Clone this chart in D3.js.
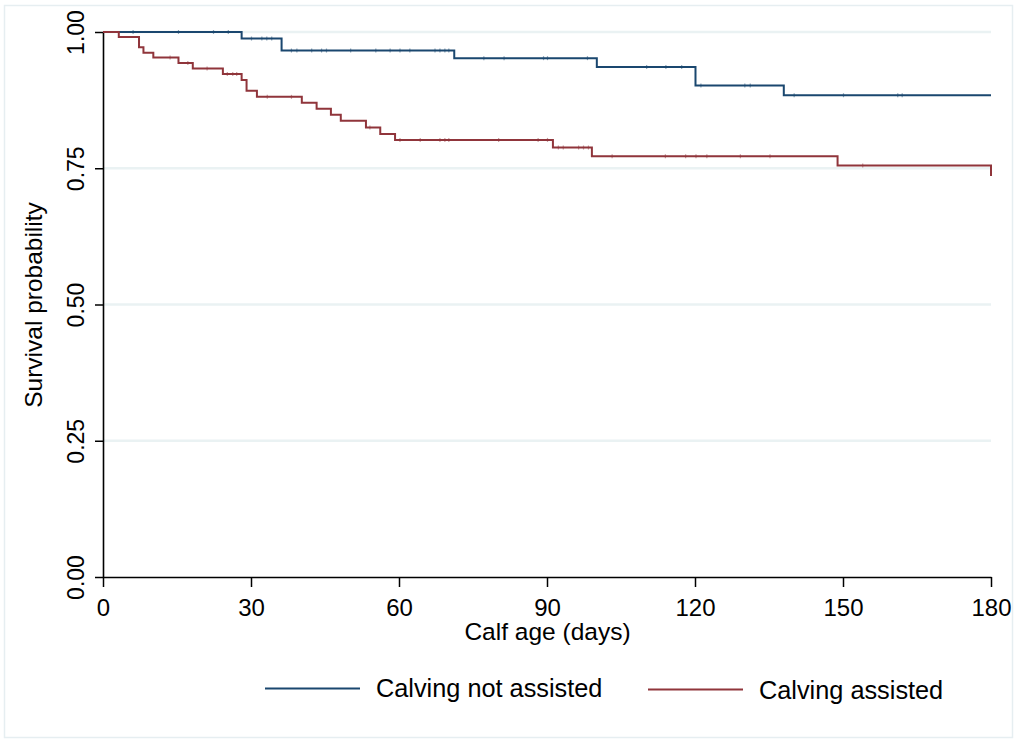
<!DOCTYPE html>
<html>
<head>
<meta charset="utf-8">
<script src="https://cdn.jsdelivr.net/npm/d3@7"></script>
<style>
  body { margin: 0; background: #fff; }
  svg text { font-family: "Liberation Sans", Arial, Helvetica, sans-serif; fill: #000; }
</style>
</head>
<body>
<svg id="chart"></svg>
<script>
// Kaplan-Meier steps (day, survival)
var notAssistedTimes = [0, 28.1, 36.2, 71.2, 100.1, 120.1, 138.0, 180];
var notAssistedSurv  = [1.0, 0.988, 0.966, 0.952, 0.936, 0.902, 0.884, 0.884];
var notAssistedCensored = [6.1, 15.3, 22.4, 25.4, 30.1, 32.2, 33.2, 34.2, 38.2, 39.3, 42.3, 44.3, 45.3,
    50.2, 55.3, 58.2, 60.2, 62.2, 67.3, 68.3, 69.3, 70.1, 77.2, 81.3, 89.3, 90.1, 98.2, 110.2, 114.1,
    117.3, 121.2, 130.1, 131.2, 140.1, 150.1, 161.1, 162.0];

var assistedTimes = [0, 3.2, 7.3, 8.2, 10.2, 15.3, 18.2, 24.3, 28.1, 29.1, 31.2, 40.3, 43.3, 46.2, 48.2,
    53.3, 56.2, 59.2, 91.2, 99.1, 148.9, 180, 180];
var assistedSurv  = [1.0, 0.991, 0.972, 0.962, 0.953, 0.943, 0.933, 0.923, 0.912, 0.892, 0.881, 0.870,
    0.859, 0.848, 0.837, 0.825, 0.813, 0.802, 0.788, 0.772, 0.755, 0.755, 0.736];
var assistedCensored = [13.6, 17.2, 21.1, 25.2, 26.3, 27.1, 33.3, 38.2, 54.1, 60.2, 64.3, 68.3, 69.3, 70.1,
    80.2, 88.2, 90.1, 92.3, 93.3, 96.4, 97.4, 98.4, 103.2, 114.0, 118.1, 120.2, 122.4, 129.2, 135.2, 154.0];

var xTicks = [0, 30, 60, 90, 120, 150, 180];
var yTicks = [0, 0.25, 0.5, 0.75, 1.0];
var seriesNames = ["Calving not assisted", "Calving assisted"];
var seriesColours = ["#1a476f", "#90353b"];

function zipSteps(times, surv) {
    let out = [];
    for (let i = 0; i < times.length; i++) {
        out.push({time: times[i], surv: surv[i]});
    }
    return out;
}

// survival level of a step curve at a given day
function survAt(steps, t) {
    let s = steps[0].surv;
    for (let i = 0; i < steps.length; i++) {
        if (steps[i].time <= t) s = steps[i].surv;
    }
    return s;
}

var svgWidth = 1017, svgHeight = 742;
var svg = d3.select('#chart')
    .attr("width", svgWidth)
    .attr("height", svgHeight);

// faint outer frame
svg.append("rect")
    .attr("x", 4.5).attr("y", 5.5)
    .attr("width", 1008).attr("height", 732)
    .attr("fill", "none")
    .attr("stroke", "#e6eef1")
    .attr("stroke-width", 1.5);

var xScale = d3.scaleLinear().domain([0, 180]).range([103, 991]);
var yScale = d3.scaleLinear().domain([0, 1]).range([577, 32]);

// grid lines
svg.append("g")
    .selectAll("line")
    .data(yTicks.filter(d => d > 0))
    .join("line")
    .attr("x1", xScale(0)).attr("x2", xScale(180))
    .attr("y1", d => yScale(d)).attr("y2", d => yScale(d))
    .attr("stroke", "#eaf2f3")
    .attr("stroke-width", 2.5);

// y axis
var yAxis = svg.append("g")
    .attr("transform", `translate(${xScale(0)},0)`)
    .call(d3.axisLeft(yScale).tickValues(yTicks).tickFormat(d3.format(".2f")).tickSize(8).tickSizeOuter(0));
yAxis.select(".domain").attr("stroke", "#000").attr("stroke-width", 1.6);
yAxis.selectAll(".tick line").attr("stroke", "#000").attr("stroke-width", 1.5);
yAxis.selectAll(".tick text")
    .attr("transform", "rotate(-90)")
    .attr("x", 0).attr("y", -19.5).attr("dy", 0)
    .attr("text-anchor", "middle")
    .style("font-size", "23px")
    .style("font-family", "'Liberation Sans', Arial, sans-serif");

// x axis
var xAxis = svg.append("g")
    .attr("transform", `translate(0,${yScale(0)})`)
    .call(d3.axisBottom(xScale).tickValues(xTicks).tickSize(10).tickSizeOuter(0));
xAxis.select(".domain").attr("stroke", "#000").attr("stroke-width", 1.6);
xAxis.selectAll(".tick line").attr("stroke", "#000").attr("stroke-width", 1.5);
xAxis.selectAll(".tick text")
    .attr("y", 39).attr("dy", 0)
    .style("font-size", "24px")
    .style("font-family", "'Liberation Sans', Arial, sans-serif");

// axis titles
svg.append("text")
    .attr("x", (xScale(0) + xScale(180)) / 2 + 0.5)
    .attr("y", 640)
    .attr("text-anchor", "middle")
    .style("font-size", "24.5px")
    .text("Calf age (days)");

svg.append("text")
    .attr("transform", "translate(42,305) rotate(-90)")
    .attr("text-anchor", "middle")
    .style("font-size", "24.5px")
    .text("Survival probability");

// survival curves
var stepLine = d3.line()
    .x(d => xScale(d.time))
    .y(d => yScale(d.surv))
    .curve(d3.curveStepAfter);

var curves = [
    {steps: zipSteps(notAssistedTimes, notAssistedSurv), censored: notAssistedCensored},
    {steps: zipSteps(assistedTimes, assistedSurv), censored: assistedCensored}
];

curves.forEach((c, i) => {
    svg.append("path")
        .datum(c.steps)
        .attr("fill", "none")
        .attr("stroke", seriesColours[i])
        .attr("stroke-width", 2)
        .attr("d", stepLine);

    // censoring ticks
    svg.append("g")
        .selectAll("line")
        .data(c.censored)
        .join("line")
        .attr("x1", d => xScale(d)).attr("x2", d => xScale(d))
        .attr("y1", d => yScale(survAt(c.steps, d)) - 2)
        .attr("y2", d => yScale(survAt(c.steps, d)) + 2)
        .attr("stroke", seriesColours[i])
        .attr("stroke-opacity", 0.5)
        .attr("stroke-width", 1.2);
});

// legend
var legendX = [265, 648];
var legend = svg.append("g");
seriesNames.forEach((name, i) => {
    legend.append("line")
        .attr("x1", legendX[i]).attr("x2", legendX[i] + 95)
        .attr("y1", 688.5 + i).attr("y2", 688.5 + i)
        .attr("stroke", seriesColours[i])
        .attr("stroke-width", 2);
    legend.append("text")
        .attr("x", legendX[i] + 111)
        .attr("y", 697 + i * 2)
        .style("font-size", "25.3px")
        .text(name);
});
</script>
</body>
</html>
